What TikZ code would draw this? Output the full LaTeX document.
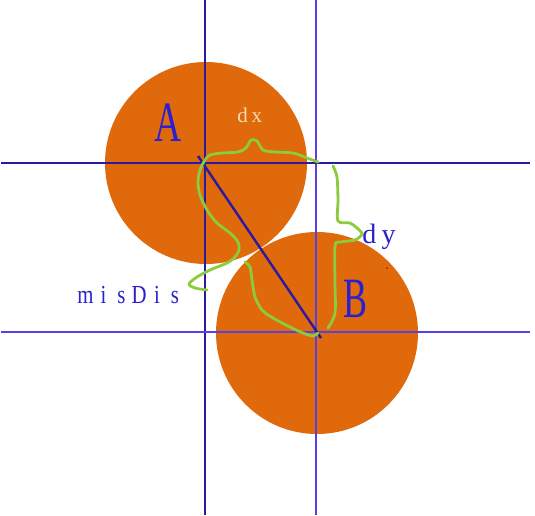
\documentclass[tikz,border=0pt]{standalone}
\usepackage{fontspec}
\setmainfont{Liberation Serif}
\definecolor{discorange}{HTML}{E0690B}
\definecolor{navyline}{HTML}{2A1AA0}
\definecolor{blueline}{HTML}{5A40DC}
\definecolor{penGreen}{HTML}{8CCB3C}
\definecolor{txtblue}{HTML}{2A20D0}
\definecolor{cream}{HTML}{F5DEB3}
\newcommand\cellch[2]{\makebox[#1][c]{#2}}
\newcommand\narrowch[1]{\makebox[17.9pt][c]{\scalebox{0.8}[1]{#1}}}
\tikzset{
  disc/.style={fill=discorange, draw=none},
  gridnavy/.style={draw=navyline, line width=1.6pt},
  gridblue/.style={draw=blueline, line width=1.6pt},
  diag/.style={draw=navyline, line width=2.4pt},
  pen/.style={draw=penGreen, line width=2.8pt, line cap=round, line join=round},
  bigletter/.style={text=txtblue, inner sep=0pt, anchor=base, font=\fontsize{57}{57}\selectfont},
  spacedlabel/.style={inner sep=0pt, anchor=base},
}
\begin{document}
\begin{tikzpicture}[x=1pt,y=-1pt]
\useasboundingbox (0,0) rectangle (535,515);
\fill[white] (0,0) rectangle (535,515);
% discs
\fill[disc] (206,163) circle (101);
\fill[disc] (317,333) circle (101);
% grid lines
\coordinate (v1t) at (205,0);   \coordinate (v1b) at (205,515);
\coordinate (v2t) at (316,0);   \coordinate (v2b) at (316,515);
\coordinate (h1l) at (1,163);   \coordinate (h1r) at (530,163);
\coordinate (h2l) at (1,332);   \coordinate (h2r) at (530,332);
\draw[gridnavy] (v1t) -- (v1b);
\draw[gridblue] (v2t) -- (v2b);
\draw[gridnavy] (h1l) -- (h1r);
\draw[gridblue] (h2l) -- (h2r);
% diagonal
\coordinate (dA) at (198,156);
\coordinate (dB) at (321,338);
\draw[diag] (dA) -- (dB);
% green pen strokes
\draw[pen] plot[smooth, tension=0.5] coordinates {
  (318,162) (307,158) (293,153) (275,152) (263,150) (257,141) (251,140) (246,148) (238,152) (222,153) (210,155) (205,160)
  (200,170) (198,182) (200,195) (207,210) (217,223) (230,233) (238,242) (239,250) (235,257) (227,263) (210,270) (197,277) (189,284) (195,288) (207,290)};
\draw[pen] plot[smooth, tension=0.5] coordinates {
  (245,262) (250,267) (252,280) (255,297) (262,310) (273,318) (290,327) (303,333) (313,336) (318,333)};
\draw[pen] plot[smooth, tension=0.5] coordinates {
  (333,166) (337,177) (338,200) (338,221) (350,223) (357,228) (362,234) (355,240) (340,242) (335,246) (335,283) (335,313) (328,328)};
% stray dot
\fill[red!60!black] (387,268) circle (0.9);
% labels
\node[bigletter] (lA) at (168.5,141) {\scalebox{0.66}[1]{A}};
\node[bigletter] (lB) at (355,317) {\scalebox{0.63}[1]{B}};
\node[spacedlabel, text=cream, font=\fontsize{21}{21}\selectfont] (ldx) at (249.75,122)
  {\cellch{14.5pt}{d}\cellch{14.5pt}{x}};
\node[spacedlabel, text=txtblue, font=\fontsize{28}{28}\selectfont] (ldy) at (379,243)
  {\cellch{19.5pt}{d}\cellch{19.5pt}{y}};
\node[spacedlabel, text=txtblue, font=\fontsize{26}{26}\selectfont] (lmis) at (130.25,303)
  {\narrowch{m}\narrowch{i}\narrowch{s}\narrowch{D}\narrowch{i}\narrowch{s}};
\end{tikzpicture}
\end{document}
